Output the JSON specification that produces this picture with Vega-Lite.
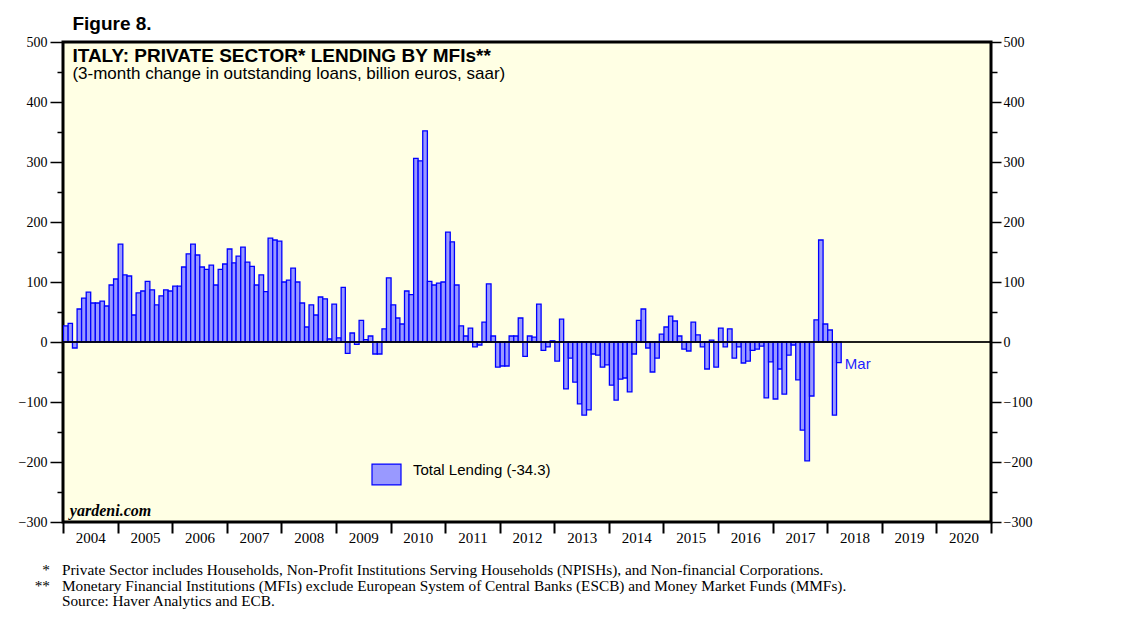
{
  "$schema": "https://vega.github.io/schema/vega-lite/v6.json",
  "width": 928,
  "height": 480,
  "autosize": {"type": "none"},
  "padding": {"left": 63, "top": 42, "right": 147, "bottom": 99},
  "background": "white",
  "config": {
    "view": {"fill": "#FFFFE4", "stroke": "#000000", "strokeWidth": 3},
    "axis": {"labelFont": "Liberation Serif", "labelColor": "#000000", "tickColor": "#000000", "domain": false, "grid": false, "title": null}
  },
  "datasets": {
    "lending": [
      {"date": "2004-01-01", "value": 27, "series": "Total Lending (-34.3)"},
      {"date": "2004-02-01", "value": 31, "series": "Total Lending (-34.3)"},
      {"date": "2004-03-01", "value": -10, "series": "Total Lending (-34.3)"},
      {"date": "2004-04-01", "value": 55, "series": "Total Lending (-34.3)"},
      {"date": "2004-05-01", "value": 73, "series": "Total Lending (-34.3)"},
      {"date": "2004-06-01", "value": 83, "series": "Total Lending (-34.3)"},
      {"date": "2004-07-01", "value": 65, "series": "Total Lending (-34.3)"},
      {"date": "2004-08-01", "value": 65, "series": "Total Lending (-34.3)"},
      {"date": "2004-09-01", "value": 68, "series": "Total Lending (-34.3)"},
      {"date": "2004-10-01", "value": 60, "series": "Total Lending (-34.3)"},
      {"date": "2004-11-01", "value": 95, "series": "Total Lending (-34.3)"},
      {"date": "2004-12-01", "value": 105, "series": "Total Lending (-34.3)"},
      {"date": "2005-01-01", "value": 163, "series": "Total Lending (-34.3)"},
      {"date": "2005-02-01", "value": 112, "series": "Total Lending (-34.3)"},
      {"date": "2005-03-01", "value": 110, "series": "Total Lending (-34.3)"},
      {"date": "2005-04-01", "value": 45, "series": "Total Lending (-34.3)"},
      {"date": "2005-05-01", "value": 82, "series": "Total Lending (-34.3)"},
      {"date": "2005-06-01", "value": 85, "series": "Total Lending (-34.3)"},
      {"date": "2005-07-01", "value": 101, "series": "Total Lending (-34.3)"},
      {"date": "2005-08-01", "value": 87, "series": "Total Lending (-34.3)"},
      {"date": "2005-09-01", "value": 62, "series": "Total Lending (-34.3)"},
      {"date": "2005-10-01", "value": 77, "series": "Total Lending (-34.3)"},
      {"date": "2005-11-01", "value": 87, "series": "Total Lending (-34.3)"},
      {"date": "2005-12-01", "value": 85, "series": "Total Lending (-34.3)"},
      {"date": "2006-01-01", "value": 93, "series": "Total Lending (-34.3)"},
      {"date": "2006-02-01", "value": 93, "series": "Total Lending (-34.3)"},
      {"date": "2006-03-01", "value": 125, "series": "Total Lending (-34.3)"},
      {"date": "2006-04-01", "value": 147, "series": "Total Lending (-34.3)"},
      {"date": "2006-05-01", "value": 163, "series": "Total Lending (-34.3)"},
      {"date": "2006-06-01", "value": 145, "series": "Total Lending (-34.3)"},
      {"date": "2006-07-01", "value": 125, "series": "Total Lending (-34.3)"},
      {"date": "2006-08-01", "value": 121, "series": "Total Lending (-34.3)"},
      {"date": "2006-09-01", "value": 128, "series": "Total Lending (-34.3)"},
      {"date": "2006-10-01", "value": 95, "series": "Total Lending (-34.3)"},
      {"date": "2006-11-01", "value": 121, "series": "Total Lending (-34.3)"},
      {"date": "2006-12-01", "value": 130, "series": "Total Lending (-34.3)"},
      {"date": "2007-01-01", "value": 155, "series": "Total Lending (-34.3)"},
      {"date": "2007-02-01", "value": 132, "series": "Total Lending (-34.3)"},
      {"date": "2007-03-01", "value": 143, "series": "Total Lending (-34.3)"},
      {"date": "2007-04-01", "value": 158, "series": "Total Lending (-34.3)"},
      {"date": "2007-05-01", "value": 133, "series": "Total Lending (-34.3)"},
      {"date": "2007-06-01", "value": 126, "series": "Total Lending (-34.3)"},
      {"date": "2007-07-01", "value": 95, "series": "Total Lending (-34.3)"},
      {"date": "2007-08-01", "value": 112, "series": "Total Lending (-34.3)"},
      {"date": "2007-09-01", "value": 84, "series": "Total Lending (-34.3)"},
      {"date": "2007-10-01", "value": 173, "series": "Total Lending (-34.3)"},
      {"date": "2007-11-01", "value": 170, "series": "Total Lending (-34.3)"},
      {"date": "2007-12-01", "value": 168, "series": "Total Lending (-34.3)"},
      {"date": "2008-01-01", "value": 100, "series": "Total Lending (-34.3)"},
      {"date": "2008-02-01", "value": 103, "series": "Total Lending (-34.3)"},
      {"date": "2008-03-01", "value": 123, "series": "Total Lending (-34.3)"},
      {"date": "2008-04-01", "value": 100, "series": "Total Lending (-34.3)"},
      {"date": "2008-05-01", "value": 65, "series": "Total Lending (-34.3)"},
      {"date": "2008-06-01", "value": 25, "series": "Total Lending (-34.3)"},
      {"date": "2008-07-01", "value": 62, "series": "Total Lending (-34.3)"},
      {"date": "2008-08-01", "value": 45, "series": "Total Lending (-34.3)"},
      {"date": "2008-09-01", "value": 75, "series": "Total Lending (-34.3)"},
      {"date": "2008-10-01", "value": 72, "series": "Total Lending (-34.3)"},
      {"date": "2008-11-01", "value": 5, "series": "Total Lending (-34.3)"},
      {"date": "2008-12-01", "value": 63, "series": "Total Lending (-34.3)"},
      {"date": "2009-01-01", "value": 7, "series": "Total Lending (-34.3)"},
      {"date": "2009-02-01", "value": 91, "series": "Total Lending (-34.3)"},
      {"date": "2009-03-01", "value": -19, "series": "Total Lending (-34.3)"},
      {"date": "2009-04-01", "value": 15, "series": "Total Lending (-34.3)"},
      {"date": "2009-05-01", "value": -4, "series": "Total Lending (-34.3)"},
      {"date": "2009-06-01", "value": 36, "series": "Total Lending (-34.3)"},
      {"date": "2009-07-01", "value": 4, "series": "Total Lending (-34.3)"},
      {"date": "2009-08-01", "value": 10, "series": "Total Lending (-34.3)"},
      {"date": "2009-09-01", "value": -20, "series": "Total Lending (-34.3)"},
      {"date": "2009-10-01", "value": -20, "series": "Total Lending (-34.3)"},
      {"date": "2009-11-01", "value": 22, "series": "Total Lending (-34.3)"},
      {"date": "2009-12-01", "value": 107, "series": "Total Lending (-34.3)"},
      {"date": "2010-01-01", "value": 62, "series": "Total Lending (-34.3)"},
      {"date": "2010-02-01", "value": 40, "series": "Total Lending (-34.3)"},
      {"date": "2010-03-01", "value": 30, "series": "Total Lending (-34.3)"},
      {"date": "2010-04-01", "value": 85, "series": "Total Lending (-34.3)"},
      {"date": "2010-05-01", "value": 79, "series": "Total Lending (-34.3)"},
      {"date": "2010-06-01", "value": 306, "series": "Total Lending (-34.3)"},
      {"date": "2010-07-01", "value": 302, "series": "Total Lending (-34.3)"},
      {"date": "2010-08-01", "value": 352, "series": "Total Lending (-34.3)"},
      {"date": "2010-09-01", "value": 101, "series": "Total Lending (-34.3)"},
      {"date": "2010-10-01", "value": 95, "series": "Total Lending (-34.3)"},
      {"date": "2010-11-01", "value": 98, "series": "Total Lending (-34.3)"},
      {"date": "2010-12-01", "value": 100, "series": "Total Lending (-34.3)"},
      {"date": "2011-01-01", "value": 183, "series": "Total Lending (-34.3)"},
      {"date": "2011-02-01", "value": 167, "series": "Total Lending (-34.3)"},
      {"date": "2011-03-01", "value": 95, "series": "Total Lending (-34.3)"},
      {"date": "2011-04-01", "value": 27, "series": "Total Lending (-34.3)"},
      {"date": "2011-05-01", "value": 10, "series": "Total Lending (-34.3)"},
      {"date": "2011-06-01", "value": 23, "series": "Total Lending (-34.3)"},
      {"date": "2011-07-01", "value": -8, "series": "Total Lending (-34.3)"},
      {"date": "2011-08-01", "value": -5, "series": "Total Lending (-34.3)"},
      {"date": "2011-09-01", "value": 33, "series": "Total Lending (-34.3)"},
      {"date": "2011-10-01", "value": 97, "series": "Total Lending (-34.3)"},
      {"date": "2011-11-01", "value": 10, "series": "Total Lending (-34.3)"},
      {"date": "2011-12-01", "value": -42, "series": "Total Lending (-34.3)"},
      {"date": "2012-01-01", "value": -40, "series": "Total Lending (-34.3)"},
      {"date": "2012-02-01", "value": -40, "series": "Total Lending (-34.3)"},
      {"date": "2012-03-01", "value": 10, "series": "Total Lending (-34.3)"},
      {"date": "2012-04-01", "value": 10, "series": "Total Lending (-34.3)"},
      {"date": "2012-05-01", "value": 40, "series": "Total Lending (-34.3)"},
      {"date": "2012-06-01", "value": -24, "series": "Total Lending (-34.3)"},
      {"date": "2012-07-01", "value": 10, "series": "Total Lending (-34.3)"},
      {"date": "2012-08-01", "value": 8, "series": "Total Lending (-34.3)"},
      {"date": "2012-09-01", "value": 63, "series": "Total Lending (-34.3)"},
      {"date": "2012-10-01", "value": -14, "series": "Total Lending (-34.3)"},
      {"date": "2012-11-01", "value": -8, "series": "Total Lending (-34.3)"},
      {"date": "2012-12-01", "value": 2, "series": "Total Lending (-34.3)"},
      {"date": "2013-01-01", "value": -32, "series": "Total Lending (-34.3)"},
      {"date": "2013-02-01", "value": 38, "series": "Total Lending (-34.3)"},
      {"date": "2013-03-01", "value": -78, "series": "Total Lending (-34.3)"},
      {"date": "2013-04-01", "value": -27, "series": "Total Lending (-34.3)"},
      {"date": "2013-05-01", "value": -67, "series": "Total Lending (-34.3)"},
      {"date": "2013-06-01", "value": -103, "series": "Total Lending (-34.3)"},
      {"date": "2013-07-01", "value": -122, "series": "Total Lending (-34.3)"},
      {"date": "2013-08-01", "value": -113, "series": "Total Lending (-34.3)"},
      {"date": "2013-09-01", "value": -20, "series": "Total Lending (-34.3)"},
      {"date": "2013-10-01", "value": -22, "series": "Total Lending (-34.3)"},
      {"date": "2013-11-01", "value": -42, "series": "Total Lending (-34.3)"},
      {"date": "2013-12-01", "value": -38, "series": "Total Lending (-34.3)"},
      {"date": "2014-01-01", "value": -72, "series": "Total Lending (-34.3)"},
      {"date": "2014-02-01", "value": -97, "series": "Total Lending (-34.3)"},
      {"date": "2014-03-01", "value": -62, "series": "Total Lending (-34.3)"},
      {"date": "2014-04-01", "value": -60, "series": "Total Lending (-34.3)"},
      {"date": "2014-05-01", "value": -83, "series": "Total Lending (-34.3)"},
      {"date": "2014-06-01", "value": -20, "series": "Total Lending (-34.3)"},
      {"date": "2014-07-01", "value": 36, "series": "Total Lending (-34.3)"},
      {"date": "2014-08-01", "value": 55, "series": "Total Lending (-34.3)"},
      {"date": "2014-09-01", "value": -10, "series": "Total Lending (-34.3)"},
      {"date": "2014-10-01", "value": -50, "series": "Total Lending (-34.3)"},
      {"date": "2014-11-01", "value": -27, "series": "Total Lending (-34.3)"},
      {"date": "2014-12-01", "value": 13, "series": "Total Lending (-34.3)"},
      {"date": "2015-01-01", "value": 25, "series": "Total Lending (-34.3)"},
      {"date": "2015-02-01", "value": 43, "series": "Total Lending (-34.3)"},
      {"date": "2015-03-01", "value": 35, "series": "Total Lending (-34.3)"},
      {"date": "2015-04-01", "value": 10, "series": "Total Lending (-34.3)"},
      {"date": "2015-05-01", "value": -12, "series": "Total Lending (-34.3)"},
      {"date": "2015-06-01", "value": -15, "series": "Total Lending (-34.3)"},
      {"date": "2015-07-01", "value": 33, "series": "Total Lending (-34.3)"},
      {"date": "2015-08-01", "value": 12, "series": "Total Lending (-34.3)"},
      {"date": "2015-09-01", "value": -8, "series": "Total Lending (-34.3)"},
      {"date": "2015-10-01", "value": -45, "series": "Total Lending (-34.3)"},
      {"date": "2015-11-01", "value": 3, "series": "Total Lending (-34.3)"},
      {"date": "2015-12-01", "value": -42, "series": "Total Lending (-34.3)"},
      {"date": "2016-01-01", "value": 23, "series": "Total Lending (-34.3)"},
      {"date": "2016-02-01", "value": -8, "series": "Total Lending (-34.3)"},
      {"date": "2016-03-01", "value": 22, "series": "Total Lending (-34.3)"},
      {"date": "2016-04-01", "value": -27, "series": "Total Lending (-34.3)"},
      {"date": "2016-05-01", "value": -8, "series": "Total Lending (-34.3)"},
      {"date": "2016-06-01", "value": -35, "series": "Total Lending (-34.3)"},
      {"date": "2016-07-01", "value": -32, "series": "Total Lending (-34.3)"},
      {"date": "2016-08-01", "value": -14, "series": "Total Lending (-34.3)"},
      {"date": "2016-09-01", "value": -12, "series": "Total Lending (-34.3)"},
      {"date": "2016-10-01", "value": -7, "series": "Total Lending (-34.3)"},
      {"date": "2016-11-01", "value": -93, "series": "Total Lending (-34.3)"},
      {"date": "2016-12-01", "value": -33, "series": "Total Lending (-34.3)"},
      {"date": "2017-01-01", "value": -95, "series": "Total Lending (-34.3)"},
      {"date": "2017-02-01", "value": -45, "series": "Total Lending (-34.3)"},
      {"date": "2017-03-01", "value": -87, "series": "Total Lending (-34.3)"},
      {"date": "2017-04-01", "value": -22, "series": "Total Lending (-34.3)"},
      {"date": "2017-05-01", "value": -5, "series": "Total Lending (-34.3)"},
      {"date": "2017-06-01", "value": -63, "series": "Total Lending (-34.3)"},
      {"date": "2017-07-01", "value": -147, "series": "Total Lending (-34.3)"},
      {"date": "2017-08-01", "value": -198, "series": "Total Lending (-34.3)"},
      {"date": "2017-09-01", "value": -90, "series": "Total Lending (-34.3)"},
      {"date": "2017-10-01", "value": 37, "series": "Total Lending (-34.3)"},
      {"date": "2017-11-01", "value": 170, "series": "Total Lending (-34.3)"},
      {"date": "2017-12-01", "value": 30, "series": "Total Lending (-34.3)"},
      {"date": "2018-01-01", "value": 20, "series": "Total Lending (-34.3)"},
      {"date": "2018-02-01", "value": -122, "series": "Total Lending (-34.3)"},
      {"date": "2018-03-01", "value": -34.3, "series": "Total Lending (-34.3)"}
    ]
  },
  "layer": [
    {
      "data": {"name": "lending"},
      "mark": {"type": "bar", "stroke": "#0000FF", "strokeWidth": 1.3, "clip": true, "binSpacing": 0},
      "encoding": {
        "x": {
          "field": "date", "timeUnit": "utcyearmonth", "type": "temporal",
          "scale": {"type": "utc", "domain": [1072915200000, 1609459200000]},
          "axis": {
            "orient": "bottom",
            "values": [1072915200000, 1104537600000, 1136073600000, 1167609600000, 1199145600000, 1230768000000,
                       1262304000000, 1293840000000, 1325376000000, 1356998400000, 1388534400000, 1420070400000,
                       1451606400000, 1483228800000, 1514764800000, 1546300800000, 1577836800000, 1609459200000],
            "labelExpr": "utcFormat(datum.value, '%Y') == '2021' ? '' : utcFormat(datum.value, '%Y')",
            "tickSize": 11, "tickWidth": 2, "ticks": true, "labels": true,
            "labelOffset": 27.3, "labelPadding": -3, "labelFontSize": 15,
            "labelAlign": "center", "labelBaseline": "top", "labelFlush": false, "labelOverlap": false
          }
        },
        "y": {
          "field": "value", "type": "quantitative",
          "scale": {"domain": [-300, 500], "nice": false, "zero": false},
          "axis": {"orient": "left", "values": [-300, -200, -100, 0, 100, 200, 300, 400, 500], "tickSize": 13, "tickWidth": 1.5, "labelFontSize": 14, "labelPadding": 3}
        },
        "fill": {
          "field": "series", "type": "nominal",
          "scale": {"range": ["#9999FF"]},
          "legend": {
            "orient": "none", "legendX": 308, "legendY": 417, "title": null, "padding": 0,
            "symbolType": "M-1,-0.72H1V0.72H-1Z", "symbolSize": 841,
            "symbolStrokeColor": "#0000FF", "symbolStrokeWidth": 1.2, "symbolOpacity": 1,
            "labelFont": "Liberation Sans", "labelFontSize": 15, "labelColor": "#000000", "labelOffset": 11,
            "labelBaseline": "alphabetic", "labelLimit": 400
          }
        }
      }
    },
    {
      "data": {"values": [{}]},
      "mark": {"type": "rule", "color": "#000000", "strokeWidth": 1.2},
      "encoding": {
        "y": {"datum": 0, "type": "quantitative",
          "axis": {"orient": "right", "values": [-300, -200, -100, 0, 100, 200, 300, 400, 500], "tickSize": 10, "tickWidth": 1.5, "labelFontSize": 14, "labelPadding": 2}}
      }
    },
    {
      "data": {"values": [{}]},
      "mark": {"type": "rule", "color": "#000000", "strokeWidth": 1.2},
      "encoding": {
        "y": {"datum": 0, "type": "quantitative",
          "axis": {"orient": "left", "values": [-250, -150, -50, 50, 150, 250, 350, 450], "tickSize": 6, "tickWidth": 1.5, "labels": false}}
      }
    },
    {
      "data": {"values": [{}]},
      "mark": {"type": "rule", "color": "#000000", "strokeWidth": 1.2},
      "encoding": {
        "y": {"datum": 0, "type": "quantitative",
          "axis": {"orient": "right", "values": [-250, -150, -50, 50, 150, 250, 350, 450], "tickSize": 6, "tickWidth": 1.5, "labels": false}}
      }
    },
    {
      "data": {"values": [{}]},
      "mark": {"type": "text", "text": "Figure 8.", "font": "Liberation Sans", "fontWeight": "bold", "fontSize": 19, "align": "left", "baseline": "alphabetic", "color": "#000000"},
      "encoding": {
        "x": {"datum": {"year": 2004, "month": 3, "date": 4, "utc": true}, "type": "temporal"},
        "y": {"datum": 520.5, "type": "quantitative", "axis": null}
      }
    },
    {
      "data": {"values": [{}]},
      "mark": {"type": "text", "text": "ITALY: PRIVATE SECTOR* LENDING BY MFIs**", "font": "Liberation Sans", "fontWeight": "bold", "fontSize": 19, "align": "left", "baseline": "alphabetic", "color": "#000000"},
      "encoding": {
        "x": {"datum": {"year": 2004, "month": 3, "date": 4, "utc": true}, "type": "temporal"},
        "y": {"datum": 467.5, "type": "quantitative", "axis": null}
      }
    },
    {
      "data": {"values": [{}]},
      "mark": {"type": "text", "text": "(3-month change in outstanding loans, billion euros, saar)", "font": "Liberation Sans", "fontSize": 17, "align": "left", "baseline": "alphabetic", "color": "#000000"},
      "encoding": {
        "x": {"datum": {"year": 2004, "month": 3, "date": 4, "utc": true}, "type": "temporal"},
        "y": {"datum": 437.7, "type": "quantitative", "axis": null}
      }
    },
    {
      "data": {"values": [{}]},
      "mark": {"type": "text", "text": "yardeni.com", "font": "Liberation Serif", "fontWeight": "bold", "fontStyle": "italic", "fontSize": 16, "align": "left", "baseline": "alphabetic", "color": "#000000"},
      "encoding": {
        "x": {"datum": {"year": 2004, "month": 2, "date": 16, "utc": true}, "type": "temporal"},
        "y": {"datum": -290.3, "type": "quantitative", "axis": null}
      }
    },
    {
      "data": {"values": [{}]},
      "mark": {"type": "text", "text": "Mar", "font": "Liberation Sans", "fontSize": 15, "align": "left", "baseline": "alphabetic", "color": "#1E1EFF"},
      "encoding": {
        "x": {"datum": {"year": 2018, "month": 4, "date": 29, "utc": true}, "type": "temporal"},
        "y": {"datum": -45, "type": "quantitative", "axis": null}
      }
    },
    {
      "data": {"values": [{}]},
      "mark": {"type": "text", "text": "*", "font": "Liberation Serif", "fontSize": 15.3, "align": "right", "baseline": "middle", "color": "#000000"},
      "encoding": {
        "x": {"datum": {"year": 2003, "month": 10, "date": 6, "utc": true}, "type": "temporal"},
        "y": {"datum": -379.5, "type": "quantitative", "axis": null}
      }
    },
    {
      "data": {"values": [{}]},
      "mark": {"type": "text", "text": "**", "font": "Liberation Serif", "fontSize": 15.3, "align": "right", "baseline": "middle", "color": "#000000"},
      "encoding": {
        "x": {"datum": {"year": 2003, "month": 10, "date": 6, "utc": true}, "type": "temporal"},
        "y": {"datum": -406.2, "type": "quantitative", "axis": null}
      }
    },
    {
      "data": {"values": [{}]},
      "mark": {"type": "text", "text": "Private Sector includes Households, Non-Profit Institutions Serving Households (NPISHs), and Non-financial Corporations.", "font": "Liberation Serif", "fontSize": 15.3, "align": "left", "baseline": "middle", "color": "#000000"},
      "encoding": {
        "x": {"datum": {"year": 2003, "month": 12, "date": 25, "utc": true}, "type": "temporal"},
        "y": {"datum": -379.5, "type": "quantitative", "axis": null}
      }
    },
    {
      "data": {"values": [{}]},
      "mark": {"type": "text", "text": "Monetary Financial Institutions (MFIs) exclude European System of Central Banks (ESCB) and Money Market Funds (MMFs).", "font": "Liberation Serif", "fontSize": 15.3, "align": "left", "baseline": "middle", "color": "#000000"},
      "encoding": {
        "x": {"datum": {"year": 2003, "month": 12, "date": 25, "utc": true}, "type": "temporal"},
        "y": {"datum": -406.2, "type": "quantitative", "axis": null}
      }
    },
    {
      "data": {"values": [{}]},
      "mark": {"type": "text", "text": "Source: Haver Analytics and ECB.", "font": "Liberation Serif", "fontSize": 15.3, "align": "left", "baseline": "middle", "color": "#000000"},
      "encoding": {
        "x": {"datum": {"year": 2003, "month": 12, "date": 25, "utc": true}, "type": "temporal"},
        "y": {"datum": -432, "type": "quantitative", "axis": null}
      }
    }
  ],
  "resolve": {"scale": {"y": "shared"}, "axis": {"y": "independent"}}
}
